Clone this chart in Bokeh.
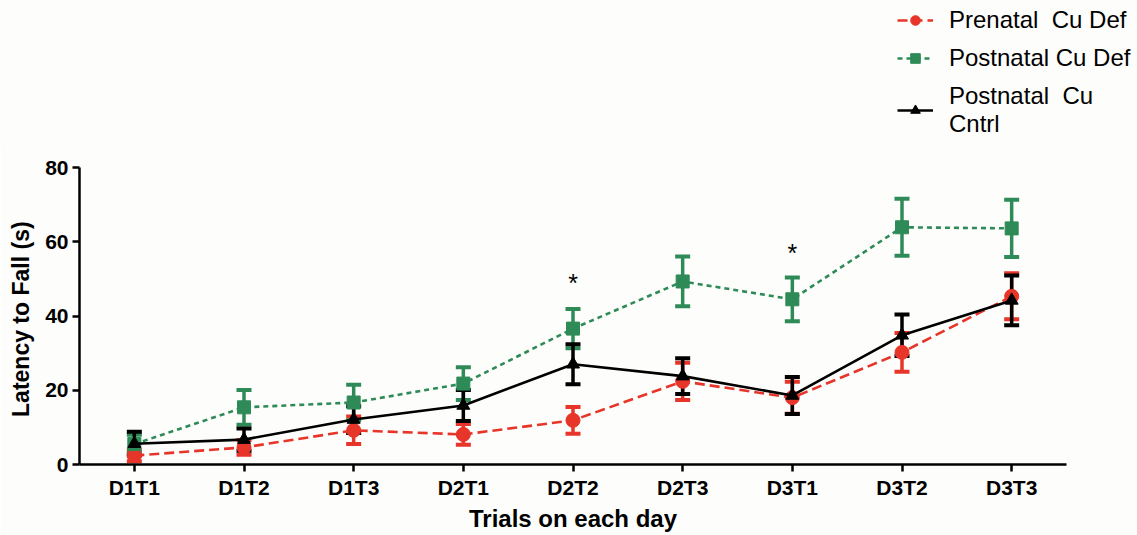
from bokeh.plotting import figure
from bokeh.models import (ColumnDataSource, FactorRange, Whisker, TeeHead, Legend,
                          LegendItem, FixedTicker)
from bokeh.core.properties import value
from bokeh.embed import file_html
from bokeh.resources import INLINE

trials = ["D1T1", "D1T2", "D1T3", "D2T1", "D2T2", "D2T3", "D3T1", "D3T2", "D3T3"]

pre_mean = [2.4, 4.6, 9.2, 8.1, 11.9, 22.4, 18.0, 30.2, 45.3]
pre_err = [1.5, 2.0, 3.7, 2.8, 3.6, 5.0, 4.3, 5.2, 6.2]

post_mean = [5.5, 15.4, 16.7, 21.8, 36.6, 49.3, 44.5, 63.9, 63.6]
post_err = [2.5, 4.7, 4.8, 4.4, 5.3, 6.7, 5.9, 7.7, 7.7]

ctrl_mean = [5.6, 6.7, 12.1, 15.9, 27.0, 23.8, 18.6, 34.8, 44.2]
ctrl_err = [3.2, 3.0, 3.6, 4.2, 5.4, 4.8, 5.0, 5.6, 6.7]

star_x = ["D2T2", "D3T1"]
star_y = [49.0, 57.0]

labels = ["Prenatal  Cu Def", "Postnatal Cu Def", "Postnatal  Cu\nCntrl"]

RED = "#E8352A"
GREEN = "#2E8B57"
BLACK = "#000000"
FONT = "Liberation Sans"
BG = "#FDFDFB"

LEG_H = 145

# ---- legend strip (separate root above the plot) ----
lg = figure(width=1137, height=LEG_H, x_range=FactorRange(factors=trials),
            y_range=(1000, 1001), output_backend="svg", toolbar_location=None,
            x_axis_location=None, y_axis_location=None, min_border=0,
            background_fill_color=BG, border_fill_color=BG)
lg.outline_line_color = None
lg.xgrid.grid_line_color = None
lg.ygrid.grid_line_color = None

# ---- main plot ----
p = figure(width=1137, height=535 - LEG_H, x_range=FactorRange(factors=trials),
           y_range=(0, 80), output_backend="svg", toolbar_location=None,
           min_border_left=79, min_border_right=71, min_border_top=167 - LEG_H,
           min_border_bottom=71, background_fill_color=BG, border_fill_color=BG)
p.outline_line_color = None
p.xgrid.grid_line_color = None
p.ygrid.grid_line_color = None


def src(m, e):
    return ColumnDataSource(dict(x=trials, y=m,
                                 lo=[a - b for a, b in zip(m, e)],
                                 hi=[a + b for a, b in zip(m, e)]))


series = [
    (pre_mean, pre_err, RED, "10 5", "circle", 14),
    (post_mean, post_err, GREEN, "5 4", "square", 13),
    (ctrl_mean, ctrl_err, BLACK, "solid", "triangle", 13),
]

items = []
for (m, e, c, dash, mk, sz), lab in zip(series, labels):
    s = src(m, e)
    w = Whisker(source=s, base="x", lower="lo", upper="hi", line_color=c,
                line_width=3.5,
                upper_head=TeeHead(size=15, line_color=c, line_width=4),
                lower_head=TeeHead(size=15, line_color=c, line_width=4))
    p.add_layout(w)
    p.line("x", "y", source=s, line_color=c, line_width=2.6, line_dash=dash)
    p.scatter("x", "y", source=s, marker=mk, size=sz, fill_color=c, line_color=c)
    # legend proxies in the strip (same data, outside its visible range)
    l2 = lg.line("x", "y", source=s, line_color=c, line_width=2.6, line_dash=dash)
    s2 = lg.scatter("x", "y", source=s, marker=mk, size=sz, fill_color=c,
                    line_color=c)
    items.append(LegendItem(label=lab, renderers=[l2, s2]))

p.text(x=star_x, y=star_y, text=["*", "*"], text_font=value(FONT),
       text_font_size="25px", text_align="center", text_baseline="middle",
       text_color="black")

leg = Legend(items=items, location=(897, 7), orientation="vertical",
             label_text_font=FONT, label_text_font_size="24px",
             label_text_color="black", label_text_line_height=0.95,
             glyph_width=36, glyph_height=24,
             label_standoff=16, spacing=10, padding=0, margin=0,
             background_fill_alpha=0, border_line_color=None)
lg.add_layout(leg, "center")

for ax in (p.xaxis[0], p.yaxis[0]):
    ax.axis_line_width = 2.5
    ax.axis_line_color = "black"
    ax.major_tick_line_width = 2.5
    ax.major_tick_line_color = "black"
    ax.major_tick_in = 0
    ax.major_tick_out = 7
    ax.minor_tick_line_color = None
    ax.major_label_text_font = FONT
    ax.major_label_text_font_style = "bold"
    ax.major_label_text_font_size = "21px"
    ax.major_label_text_color = "black"
    ax.axis_label_text_font = FONT
    ax.axis_label_text_font_style = "bold"
    ax.axis_label_text_color = "black"

p.xaxis.axis_label_text_font_size = "24px"
p.yaxis.axis_label_text_font_size = "23px"
p.yaxis.ticker = FixedTicker(ticks=[0, 20, 40, 60, 80])
p.yaxis.axis_label = "Latency to  Fall (s)"
p.xaxis.axis_label = "Trials on each day"
p.yaxis.major_label_standoff = 4
p.xaxis.major_label_standoff = 4
p.xaxis.axis_label_standoff = 3
p.yaxis.axis_label_standoff = 8

open("out.html", "w").write(file_html([lg, p], INLINE))
